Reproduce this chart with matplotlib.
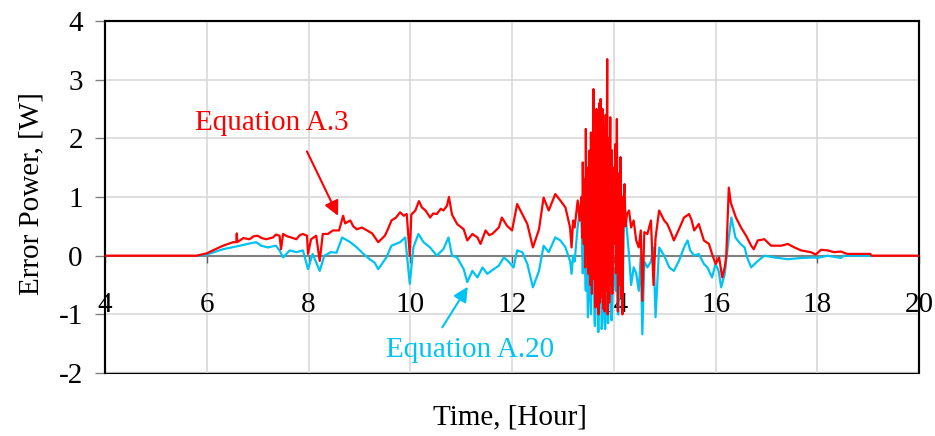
import matplotlib
matplotlib.use('Agg')
import matplotlib.pyplot as plt

plt.rcParams['font.family'] = ['Liberation Serif', 'DejaVu Serif']
plt.rcParams['axes.unicode_minus'] = False

# Equation A.3 (red) - in three pieces
t_red_a = [4.0, 5.8, 6.0, 6.12, 6.32, 6.52, 6.58, 6.59, 6.6, 6.72, 6.84, 6.92, 7.0, 7.08, 7.17, 7.3,
           7.36, 7.43, 7.46, 7.5, 7.58, 7.66, 7.76, 7.83, 7.89, 7.97, 7.99, 8.05, 8.15, 8.22, 8.28,
           8.38, 8.48, 8.6, 8.68, 8.72, 8.82, 8.88, 8.95, 9.05, 9.15, 9.25, 9.37, 9.5, 9.56, 9.63,
           9.72, 9.8, 9.87, 9.93, 9.99, 10.02, 10.1, 10.17, 10.23, 10.3, 10.39, 10.45, 10.52, 10.6,
           10.65, 10.72, 10.76, 10.82, 10.92, 11.05, 11.12, 11.22, 11.32, 11.38, 11.48, 11.55, 11.61,
           11.74, 11.8, 11.9, 12.0, 12.1, 12.2, 12.3, 12.41, 12.53, 12.62, 12.72, 12.85, 12.95,
           13.05, 13.14, 13.17, 13.2, 13.23, 13.29]
p_red_a = [0, 0, 0.04, 0.09, 0.17, 0.23, 0.23, 0.38, 0.23, 0.3, 0.28, 0.33, 0.34, 0.3, 0.28, 0.31,
           0.36, 0.34, 0.11, 0.37, 0.33, 0.31, 0.28, 0.35, 0.37, 0.34, 0.03, 0.28, 0.34, -0.09, 0.37,
           0.37, 0.43, 0.43, 0.68, 0.55, 0.6, 0.5, 0.45, 0.48, 0.43, 0.38, 0.23, 0.34, 0.45, 0.6,
           0.65, 0.74, 0.68, 0.71, 0.0, 0.7, 0.77, 0.93, 0.82, 0.77, 0.65, 0.72, 0.71, 0.8,
           0.77, 0.85, 1.0, 0.7, 0.54, 0.45, 0.26, 0.37, 0.31, 0.2, 0.43, 0.35, 0.37,
           0.48, 0.65, 0.51, 0.43, 0.88, 0.71, 0.54, 0.14, 0.45, 0.99, 0.77, 1.05, 0.94,
           0.82, 0.48, 0.14, 0.6, 0.48, 0.94]
t_red_b = [13.33, 13.36, 13.38, 13.39, 13.41, 13.42, 13.44, 13.45, 13.47, 13.49, 13.5, 13.52, 13.54,
           13.55, 13.57, 13.6, 13.61, 13.63, 13.64, 13.66, 13.67, 13.68, 13.7, 13.72, 13.73, 13.74,
           13.76, 13.78, 13.79, 13.8, 13.82, 13.84, 13.85, 13.87, 13.88, 13.9, 13.91, 13.93, 13.94,
           13.96, 13.97, 13.99, 14.01, 14.03, 14.04, 14.06, 14.08, 14.1, 14.11, 14.13, 14.15, 14.16,
           14.17, 14.19, 14.21, 14.23, 14.26]
p_red_b = [0.6, 1.0, 0.3, 1.59, 0.2, 1.3, -0.2, 2.16, 0.0, 1.5, -0.31, 1.79, -0.5,
           2.1, -0.65, 2.84, -0.4, 2.0, -0.88, 2.5, -0.6, 2.3, -1.0, 2.6, -0.8, 2.67,
           -0.7, 2.5, -0.9, 2.2, -0.95, 2.4, -0.6, 3.35, -1.0, 2.0, -0.8, 2.36, -0.5,
           1.8, -0.65, 1.5, 0.2, 1.9, -0.3, 2.33, -0.95, 1.4, -0.5, 1.68, -0.7, 1.0,
           -1.0, 0.9, 1.22, 0.5, 0.71]
t_red_c = [14.3, 14.34, 14.39, 14.44, 14.49, 14.53, 14.56, 14.6, 14.66, 14.73, 14.78, 14.82, 14.89,
           14.99, 15.05, 15.12, 15.18, 15.28, 15.38, 15.48, 15.53, 15.58, 15.67, 15.77, 15.87, 15.93,
           16.0, 16.07, 16.13, 16.18, 16.21, 16.26, 16.3, 16.4, 16.5, 16.6, 16.7, 16.75, 16.83,
           16.96, 17.09, 17.29, 17.42, 17.55, 17.68, 17.87, 17.97, 18.07, 18.2, 18.33, 18.46, 18.59,
           19.04, 19.07, 20.0]
p_red_c = [0.77, 0.48, 0.6, 0.26, 0.14, 0.43, -0.77, 0.4, 0.37, 0.6, -0.5, 0.3, 0.77,
           0.6, 0.54, 0.4, 0.26, 0.45, 0.65, 0.71, 0.6, 0.43, 0.54, 0.26, 0.2, 0.03,
           -0.14, -0.03, -0.37, -0.2, 0.0, 1.16, 0.9, 0.65, 0.48, 0.34, 0.17, 0.11, 0.26,
           0.28, 0.17, 0.17, 0.2, 0.14, 0.09, 0.06, 0.02, 0.1, 0.09, 0.06, 0.07, 0.03,
           0.03, 0.0, 0.0]

# Equation A.20 (cyan)
t_cyan_a = [5.85, 6.0, 6.32, 6.65, 6.8, 6.97, 7.07, 7.2, 7.36, 7.43, 7.5, 7.63, 7.76, 7.89, 7.99,
            8.08, 8.22, 8.31, 8.44, 8.55, 8.66, 8.82, 8.95, 9.08, 9.2, 9.3, 9.37, 9.53, 9.63, 9.8,
            9.9, 9.99, 10.06, 10.16, 10.26, 10.39, 10.52, 10.65, 10.75, 10.82, 10.92, 11.05, 11.12,
            11.22, 11.32, 11.42, 11.51, 11.64, 11.74, 11.84, 11.94, 12.03, 12.1, 12.2, 12.3, 12.41,
            12.53, 12.62, 12.72, 12.85, 12.95, 13.05, 13.14, 13.17, 13.2, 13.23, 13.29]
p_cyan_a = [0, 0.02, 0.11, 0.17, 0.2, 0.23, 0.17, 0.14, 0.17, 0.09, -0.03, 0.09, 0.06, 0.09, -0.23,
            0.03, -0.26, 0.0, 0.06, 0.05, 0.31, 0.23, 0.14, 0.03, -0.06, -0.12, -0.23, -0.03, 0.17, 0.23,
            0.31, -0.48, 0.14, 0.37, 0.23, 0.14, 0.0, 0.11, 0.31, 0.0, -0.03, -0.23, -0.45,
            -0.26, -0.37, -0.2, -0.31, -0.23, -0.17, -0.03, -0.11, -0.2, 0.09, 0.06, -0.14, -0.54,
            -0.26, 0.17, 0.06, 0.31, 0.26, 0.14, -0.09, -0.31, 0.0, -0.1, 0.5]
t_cyan_b = [13.36, 13.38, 13.39, 13.42, 13.44, 13.45, 13.47, 13.49, 13.52, 13.55, 13.57, 13.6, 13.62,
            13.63, 13.65, 13.67, 13.69, 13.7, 13.72, 13.74, 13.76, 13.77, 13.79, 13.8, 13.82, 13.83,
            13.85, 13.87, 13.88, 13.89, 13.91, 13.93, 13.95, 13.96, 13.99, 14.01, 14.04, 14.06, 14.08,
            14.09, 14.11, 14.13, 14.15, 14.17, 14.19, 14.21, 14.26]
p_cyan_b = [0.88, 0.0, -0.3, 0.5, -0.4, -0.6, 0.2, -1.05, 0.0, -1.0, -0.2, 0.3, -1.1,
            -1.2, 0.0, 0.2, -1.3, -1.3, -0.1, 0.1, -1.25, -1.2, 0.0, 0.0, -1.1, -1.25,
            0.2, 0.5, -1.15, -1.15, 0.1, 0.2, -1.1, -1.1, -0.2, -0.3, -0.6, 0.3, -1.0,
            -1.0, -0.2, 0.0, -0.6, -0.9, 0.3, 0.9, 0.4]
t_cyan_c = [14.3, 14.34, 14.39, 14.44, 14.49, 14.53, 14.56, 14.6, 14.66, 14.73, 14.78, 14.82, 14.89,
            14.99, 15.09, 15.18, 15.28, 15.38, 15.45, 15.5, 15.58, 15.67, 15.77, 15.84, 15.93, 16.0,
            16.06, 16.11, 16.18, 16.26, 16.31, 16.39, 16.49, 16.57, 16.62, 16.7, 16.83, 16.96, 17.15,
            17.42, 17.68, 17.94, 18.0, 18.2, 18.33, 18.46, 18.52, 18.98, 19.05]
p_cyan_c = [0.0, -0.5, -0.2, -0.3, -0.6, 0.0, -1.34, -0.1, -0.2, -0.1, 0.14, -1.05, 0.14,
            0.0, -0.2, -0.26, -0.09, 0.14, 0.26, 0.09, 0.0, 0.03, -0.14, -0.2, -0.37, -0.14,
            -0.26, -0.54, -0.31, 0.31, 0.65, 0.31, 0.2, 0.14, -0.03, -0.2, -0.09, 0.0, -0.03,
            -0.06, -0.04, -0.03, -0.04, 0.0, -0.02, -0.04, 0.0, 0.0, 0.0]

t_red = t_red_a + t_red_b + t_red_c
p_red = p_red_a + p_red_b + p_red_c
t_cyan = t_cyan_a + t_cyan_b + t_cyan_c
p_cyan = p_cyan_a + p_cyan_b + p_cyan_c

x_ticks = [4, 6, 8, 10, 12, 14, 16, 18, 20]
y_ticks = [-2, -1, 0, 1, 2, 3, 4]

red = '#ff0000'
cyan = '#00c3f3'

fig = plt.figure(figsize=(9.35, 4.36), dpi=100)
ax = fig.add_axes([0.1123, 0.1445, 0.8707, 0.8073])

ax.plot(t_cyan, p_cyan, color=cyan, lw=1.6, zorder=3)
ax.plot(t_red, p_red, color=red, lw=1.6, zorder=4)

ax.set_xlim(4, 20)
ax.set_ylim(-2, 4)
ax.set_xticks(x_ticks)
ax.set_yticks(y_ticks)
ax.grid(True, color='#d9d9d9', lw=1.2, zorder=0)
ax.set_axisbelow(True)

# x axis sits on the zero line, frame drawn by the patch
ax.spines['bottom'].set_position(('data', 0))
ax.spines['bottom'].set_color('#808080')
ax.spines['bottom'].set_linewidth(1.5)
ax.spines['bottom'].set_zorder(2)
for s in ['left', 'top', 'right']:
    ax.spines[s].set_color('black')
    ax.spines[s].set_linewidth(1.5)
ax.patch.set_edgecolor('black')
ax.patch.set_linewidth(1.5)

ax.tick_params(axis='x', direction='out', length=5, width=1, color='#606060',
               labelsize=21, pad=21)
ax.tick_params(axis='y', direction='out', length=7, width=1, color='#808080',
               labelsize=21, pad=9)

ax.set_xlabel('Time, [Hour]', fontsize=21)
ax.xaxis.set_label_coords(0.4975, -0.09)
ax.set_ylabel('Error Power, [W]', fontsize=21)
ax.yaxis.set_label_coords(-0.075, 0.51)

ax.annotate('Equation A.3', xy=(8.58, 0.68), xytext=(7.28, 2.26), color=red, fontsize=21,
            ha='center', va='center',
            arrowprops=dict(arrowstyle='-|>', color=red, lw=1.5, mutation_scale=22,
                            shrinkA=10, shrinkB=0, relpos=(0.68, 0.0)))
ax.annotate('Equation A.20', xy=(11.13, -0.53), xytext=(11.17, -1.61), color=cyan, fontsize=21,
            ha='center', va='center',
            arrowprops=dict(arrowstyle='-|>', color=cyan, lw=1.5, mutation_scale=22,
                            shrinkA=6, shrinkB=0, relpos=(0.3, 1.0)))

fig.savefig('out.png', dpi=100)
